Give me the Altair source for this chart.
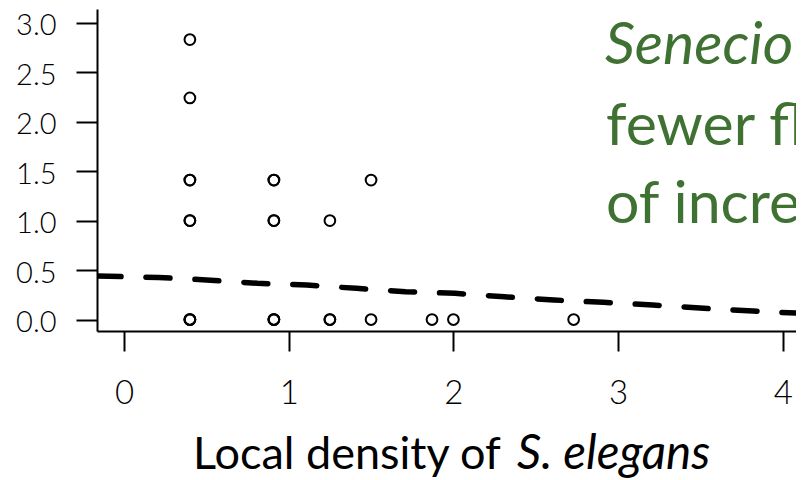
import altair as alt
import pandas as pd

# scatter points (duplicates reproduce overplotted, darker circles)
pt_x = [0.40, 0.40, 0.40, 0.40, 0.40, 0.40, 0.40, 0.40, 0.40,
        0.91, 0.91, 0.91, 0.91, 0.91, 0.91, 0.91,
        1.25, 1.25, 1.25,
        1.50, 1.50,
        1.87, 2.00, 2.73]
pt_y = [2.83, 2.24, 1.41, 1.41, 1.00, 1.00, 0.0, 0.0, 0.0,
        1.41, 1.41, 1.00, 1.00, 0.0, 0.0, 0.0,
        1.00, 0.0, 0.0,
        1.41, 0.0,
        0.0, 0.0, 0.0]

# fitted (dashed) curve
fit_x = [-0.164, 0.21, 0.50, 0.81, 1.11, 1.41, 1.71, 2.01, 2.31, 2.61, 2.91, 3.21, 3.52, 3.82, 4.08]
fit_y = [0.44, 0.425, 0.40, 0.366, 0.349, 0.315, 0.281, 0.265, 0.23, 0.197, 0.174, 0.147, 0.113, 0.086, 0.065]

x_ticks = [0, 1, 2, 3, 4]
y_ticks = [0.0, 0.5, 1.0, 1.5, 2.0, 2.5, 3.0]

note_italic = ["Senecio elegans"]
note_lines = ["fewer flowers", "of increased"]
title_plain = ["Local density of"]
title_italic = ["S. elegans"]

GREEN = "#3f7232"
FONT = "Lato"

pts = pd.DataFrame({"x": pt_x, "y": pt_y})
fit = pd.DataFrame({"x": fit_x, "y": fit_y})

xs = alt.Scale(domain=[-0.164, 4.080], nice=False, zero=False)
ys = alt.Scale(domain=[-0.116, 3.139], nice=False, zero=False)

xax = alt.Axis(values=x_ticks, format="d", title=None, tickSize=20, labelPadding=26,
               labelFont=FONT, labelFontSize=33, labelFontWeight=300, labelColor="black",
               domainColor="black", domainWidth=2, tickColor="black", tickWidth=2, grid=False)
yax = alt.Axis(values=y_ticks, format=".1f", title=None, tickSize=21, labelPadding=20,
               labelFont=FONT, labelFontSize=29, labelFontWeight=300, labelColor="black",
               labelOffset=3,
               domainColor="black", domainWidth=2, tickColor="black", tickWidth=2, grid=False)

points = alt.Chart(pts).mark_point(shape="circle", filled=False, stroke="black",
                                   strokeWidth=2, size=115, opacity=1).encode(
    x=alt.X("x:Q", scale=xs, axis=xax),
    y=alt.Y("y:Q", scale=ys, axis=yax),
)

line = alt.Chart(fit).mark_line(color="black", strokeWidth=5.5, strokeDash=[24, 25],
                                strokeCap="round", clip=True).encode(
    x=alt.X("x:Q", scale=xs),
    y=alt.Y("y:Q", scale=ys),
)

note1 = alt.Chart(pd.DataFrame({"t": note_italic})).mark_text(
    align="left", baseline="alphabetic", font=FONT, fontSize=59, fontStyle="italic",
    color=GREEN).encode(text="t:N", x=alt.value(508), y=alt.value(55))
note2 = alt.Chart(pd.DataFrame({"t": note_lines[:1]})).mark_text(
    align="left", baseline="alphabetic", font=FONT, fontSize=59,
    color=GREEN).encode(text="t:N", x=alt.value(509), y=alt.value(136))
note3 = alt.Chart(pd.DataFrame({"t": note_lines[1:]})).mark_text(
    align="left", baseline="alphabetic", font=FONT, fontSize=59,
    color=GREEN).encode(text="t:N", x=alt.value(509), y=alt.value(214))

t1 = alt.Chart(pd.DataFrame({"t": title_plain})).mark_text(
    align="left", baseline="alphabetic", font=FONT, fontSize=45,
    color="black").encode(text="t:N", x=alt.value(96), y=alt.value(460))
t2 = alt.Chart(pd.DataFrame({"t": title_italic})).mark_text(
    align="left", baseline="alphabetic", font=FONT, fontSize=47.5, fontStyle="italic",
    color="black").encode(text="t:N", x=alt.value(420), y=alt.value(460))

chart = alt.layer(line, points, note1, note2, note3, t1, t2).properties(
    width=699, height=322,
    autosize=alt.AutoSizeParams(type="none"),
    padding={"left": 89, "top": 1, "right": 0, "bottom": 149},
).configure_view(stroke=None)

chart.save("out.html", embed_options={"renderer": "svg", "actions": False})
